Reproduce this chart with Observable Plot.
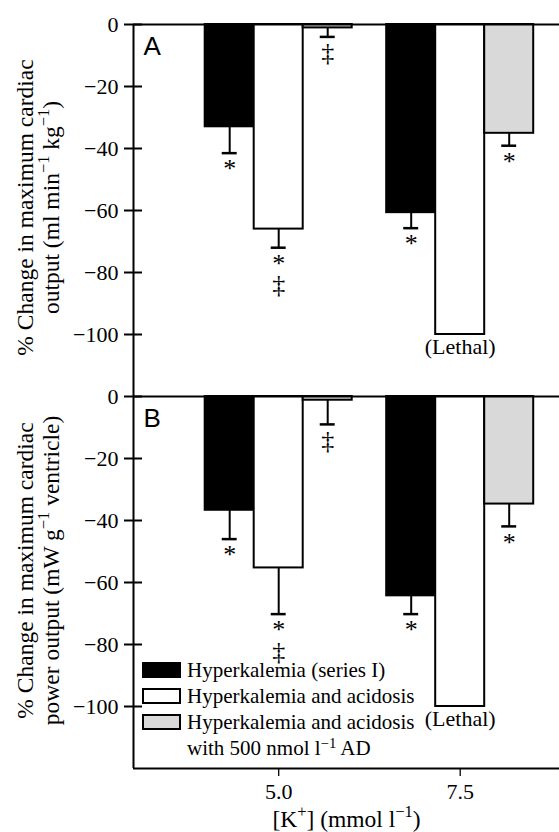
<!DOCTYPE html>
<html>
<head>
<meta charset="utf-8">
<script src="https://cdn.jsdelivr.net/npm/d3@7"></script>
<script src="https://cdn.jsdelivr.net/npm/@observablehq/plot@0.6"></script>
<style>
  body { margin: 0; background: #fff; }
  #wrap { position: relative; width: 559px; height: 832px; overflow: hidden; }
  #legend { position: absolute; left: 142px; top: 657px; font-family: "Liberation Serif", "Times New Roman", Times, "DejaVu Serif", serif; font-size: 21px; line-height: 26px; color: #000; }
  .row { display: flex; align-items: flex-start; white-space: nowrap; }
  .sw { width: 35px; height: 12px; border: 2px solid #000; margin: 5px 6px 0 0; flex: none; }
  sup { font-size: 70%; vertical-align: 0.45em; line-height: 0; }
</style>
</head>
<body>
<div id="wrap"></div>
<script>
// ---- data ----
const kValues = [5.0, 7.5];
const panels = ["A", "B"];
const seriesNames = ["Hyperkalemia (series I)", "Hyperkalemia and acidosis", "Hyperkalemia and acidosis with 500 nmol l⁻¹ AD"];
const seriesFills = ["#000000", "#ffffff", "#d9d9d9"];

// Panel A: % change in maximum cardiac output (at K = 5.0, 7.5)
const coSeriesI = [-33.0, -60.7];
const coSeriesISem = [8.5, 5.0];
const coAcidosis = [-66.0, -100];
const coAcidosisSem = [6.0, null];
const coAD = [-1.1, -35.1];
const coADSem = [2.9, 4.0];

// Panel B: % change in maximum cardiac power output
const poSeriesI = [-36.7, -64.3];
const poSeriesISem = [9.3, 5.9];
const poAcidosis = [-55.3, -100];
const poAcidosisSem = [14.9, null];
const poAD = [-1.2, -34.7];
const poADSem = [7.8, 7.2];

// significance markers (same in both panels)
const sigSeriesI = ["*", "*"];
const sigAcidosis = ["*\n‡", ""];
const sigAD = ["‡", "*"];
const lethalFlags = [[false, false], [false, true], [false, false]];

const yTicks = [0, -20, -40, -60, -80, -100];
const yDomain = [-120, 0];

const yTitleA = "% Change in maximum cardiac\noutput (ml min^{−1} kg^{−1})";
const yTitleB = "% Change in maximum cardiac\npower output (mW g^{−1} ventricle)";
const xTitle = "[K^{+}] (mmol l^{−1})";

// ---- layout constants ----
const serif = "'Liberation Serif', 'Times New Roman', Times, 'DejaVu Serif', serif";
const sans = "'Liberation Sans', Arial, Helvetica, sans-serif";
const xDomain = [3, 3 + 426 / 72.6];
const barW = 0.675;
const capHalf = 0.103;

const panelValues = {
  A: [[coSeriesI, coSeriesISem], [coAcidosis, coAcidosisSem], [coAD, coADSem]],
  B: [[poSeriesI, poSeriesISem], [poAcidosis, poAcidosisSem], [poAD, poADSem]]
};
const sigs = [sigSeriesI, sigAcidosis, sigAD];

const rows = [];
for (const p of panels) {
  panelValues[p].forEach(([vals, sems], s) => {
    kValues.forEach((k, i) => {
      const x1 = k + (s - 1.5) * barW;
      rows.push({
        panel: p, k, series: seriesNames[s], fill: seriesFills[s],
        x1, x2: x1 + barW, xc: x1 + barW / 2,
        value: vals[i], sem: sems[i],
        err: sems[i] == null ? null : vals[i] - sems[i],
        sig: sigs[s][i], lethal: lethalFlags[s][i]
      });
    });
  });
}
const withErr = rows.filter(d => d.sem != null);
const withSig = rows.filter(d => d.sig);
const lethalRows = rows.filter(d => d.lethal);

const chart = Plot.plot({
  width: 559,
  height: 832,
  marginLeft: 133,
  marginRight: 0,
  marginTop: 23,
  marginBottom: 64,
  style: { fontFamily: serif, fontSize: "22px", color: "#000", background: "#fff", overflow: "visible" },
  x: { domain: xDomain, axis: null },
  y: { domain: yDomain, axis: null },
  fy: { domain: panels, padding: 0, axis: null },
  color: { type: "identity" },
  marks: [
    Plot.rect(rows, { x1: "x1", x2: "x2", y1: () => 0, y2: "value", fy: "panel", fill: "fill", stroke: "#000", strokeWidth: 2 }),
    Plot.ruleX(withErr, { x: "xc", y1: "value", y2: "err", fy: "panel", stroke: "#000", strokeWidth: 2 }),
    Plot.ruleY(withErr, { y: "err", x1: d => d.xc - capHalf, x2: d => d.xc + capHalf, fy: "panel", stroke: "#000", strokeWidth: 2.5 }),
    Plot.text(withSig, { x: "xc", y: "err", fy: "panel", text: "sig", lineAnchor: "top", dy: 9, fontSize: 26, lineHeight: 0.82, fontFamily: serif }),
    Plot.text(lethalRows, { x: "xc", y: "value", fy: "panel", text: () => "(Lethal)", lineAnchor: "top", dy: 4, fontSize: 22, fontFamily: serif }),
    Plot.ruleY([0], { stroke: "#000", strokeWidth: 2 }),
    Plot.ruleX([xDomain[0]], { stroke: "#000", strokeWidth: 2 }),
    Plot.ruleY([{ fy: "B", y: yDomain[0] }], { y: "y", fy: "fy", stroke: "#000", strokeWidth: 2 }),
    // y ticks crossing the axis line
    Plot.axisY({ ticks: yTicks, tickSize: 18, dx: 9, strokeWidth: 2, fill: "none", label: null }),
    // y tick labels
    Plot.axisY({ ticks: yTicks, tickSize: 0, tickPadding: 15, fontSize: 22, fontFamily: serif, label: null }),
    Plot.axisX({ ticks: kValues, tickFormat: d3.format(".1f"), tickSize: 8, tickPadding: 7, strokeWidth: 1.3, fontSize: 22, fontFamily: serif, label: null }),
    Plot.text([{ fy: "A", t: "A" }, { fy: "B", t: "B" }], { fy: "fy", text: "t", frameAnchor: "top-left", lineAnchor: "top", dx: 10, dy: 12, fontSize: 26, fontFamily: sans }),
    Plot.text([{ fy: "A" }], { fy: "fy", text: () => yTitleA, frameAnchor: "left", textAnchor: "middle", rotate: -90, dx: -96, dy: -3, fontSize: 23.5, lineHeight: 1.1, fontFamily: serif }),
    Plot.text([{ fy: "B" }], { fy: "fy", text: () => yTitleB, frameAnchor: "left", textAnchor: "middle", rotate: -90, dx: -96, dy: -12, fontSize: 23.5, lineHeight: 1.1, fontFamily: serif }),
    Plot.text([{ fy: "B" }], { fy: "fy", text: () => xTitle, frameAnchor: "bottom", dy: 58, fontSize: 23.5, fontFamily: serif })
  ]
});

const wrap = document.getElementById("wrap");
wrap.appendChild(chart);

// superscript post-processing: "^{...}" -> raised smaller tspan
const SVGNS = "http://www.w3.org/2000/svg";
chart.querySelectorAll("text, tspan").forEach(el => {
  if (el.children.length) return;
  const s = el.textContent;
  if (!s.includes("^{")) return;
  const fs = parseFloat(getComputedStyle(el).fontSize) || 22;
  const shift = 0.4 * fs;
  el.textContent = "";
  const re = /\^\{([^}]*)\}/g;
  let last = 0, m, raised = false;
  while ((m = re.exec(s))) {
    if (m.index > last) {
      const t = document.createElementNS(SVGNS, "tspan");
      if (raised) t.setAttribute("dy", shift);
      raised = false;
      t.textContent = s.slice(last, m.index);
      el.appendChild(t);
    }
    const sup = document.createElementNS(SVGNS, "tspan");
    sup.setAttribute("dy", -shift);
    sup.setAttribute("font-size", (0.7 * fs) + "px");
    sup.textContent = m[1];
    el.appendChild(sup);
    raised = true;
    last = re.lastIndex;
  }
  if (last < s.length) {
    const t = document.createElementNS(SVGNS, "tspan");
    if (raised) t.setAttribute("dy", shift);
    t.textContent = s.slice(last);
    el.appendChild(t);
  }
});

// legend (inside panel B)
const legend = document.createElement("div");
legend.id = "legend";
const legendHtml = [
  [seriesFills[0], "Hyperkalemia (series I)"],
  [seriesFills[1], "Hyperkalemia and acidosis"],
  [seriesFills[2], "Hyperkalemia and acidosis<br>with 500 nmol l<sup>−1</sup> AD"]
];
legend.innerHTML = legendHtml.map(([c, t]) =>
  `<div class="row"><div class="sw" style="background:${c}"></div><div>${t}</div></div>`).join("");
wrap.appendChild(legend);
</script>
</body>
</html>
